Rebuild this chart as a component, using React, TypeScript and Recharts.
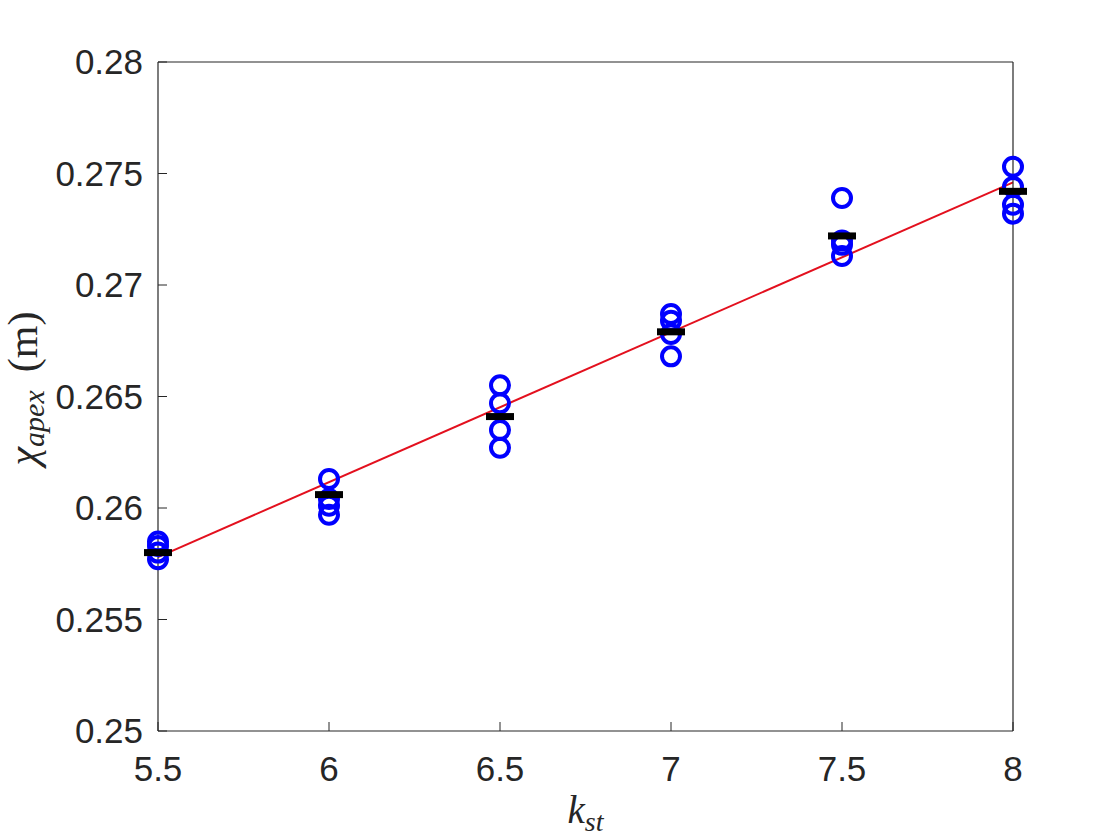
import React from "react";
import { ComposedChart, XAxis, YAxis, Scatter, Line } from "recharts";

// k_st values where the simulation was run
const kValues = [5.5, 6, 6.5, 7, 7.5, 8];

// apex position (m) for each repeated run, one entry per k value
const run1 = [0.2585, 0.2613, 0.2655, 0.2687, 0.2739, 0.2753];
const run2 = [0.2583, 0.2604, 0.2647, 0.2684, 0.2720, 0.2744];
const run3 = [0.2580, 0.2601, 0.2635, 0.2678, 0.2718, 0.2736];
const run4 = [0.2577, 0.2597, 0.2627, 0.2668, 0.2713, 0.2732];

// mean per k value (black dashes)
const meanChi = [0.2580, 0.2606, 0.2641, 0.2679, 0.2722, 0.2742];

// linear fit end points
const fitK = [5.5, 8];
const fitChi = [0.2578, 0.2746];

const xTicks = [5.5, 6, 6.5, 7, 7.5, 8];
const yTicks = [0.25, 0.255, 0.26, 0.265, 0.27, 0.275, 0.28];

const runs = [run1, run2, run3, run4];
const circleData = kValues.flatMap((k, i) => runs.map((r) => ({ k, chi: r[i] })));
const meanData = kValues.map((k, i) => ({ k, chi: meanChi[i] }));
const fitData = fitK.map((k, i) => ({ k, chi: fitChi[i] }));

const AXIS = "#262626";
const tickFont = { fontSize: 35, fill: AXIS, fontFamily: "'Liberation Sans', Arial, sans-serif" };

function RingShape(props: any) {
  const { cx, cy } = props;
  return <circle cx={cx} cy={cy} r={9} fill="none" stroke="#0000ff" strokeWidth={4} />;
}

function DashShape(props: any) {
  const { cx, cy } = props;
  return <rect x={cx - 14} y={cy - 3.5} width={28} height={7} fill="#000" />;
}

function YLabel(props: any) {
  const vb = props.viewBox || {};
  const cy = (vb.y ?? 0) + (vb.height ?? 0) / 2 - 8;
  return (
    <text
      transform="rotate(-90)"
      x={-cy}
      y={37}
      textAnchor="middle"
      fill={AXIS}
      fontFamily="'Liberation Serif', 'DejaVu Serif', serif"
      fontSize={42}
    >
      <tspan fontStyle="italic">χ</tspan>
      <tspan fontStyle="italic" fontSize={30} dy={7}>apex</tspan>
      <tspan dy={-7} dx={18}>(m)</tspan>
    </text>
  );
}

function XLabel(props: any) {
  const vb = props.viewBox || {};
  const cx = (vb.x ?? 0) + (vb.width ?? 0) / 2;
  return (
    <text
      x={cx}
      y={823}
      textAnchor="middle"
      fill={AXIS}
      fontFamily="'Liberation Serif', 'DejaVu Serif', serif"
      fontStyle="italic"
      fontSize={39}
    >
      <tspan>k</tspan>
      <tspan fontSize={28} dy={8}>st</tspan>
    </text>
  );
}

export default function App() {
  return (
    <div style={{ position: "absolute", left: 0, top: 0, background: "#fff" }}>
      <ComposedChart width={1120} height={840} margin={{ top: 0, right: 0, bottom: 0, left: 0 }}>
        <XAxis
          dataKey="k"
          type="number"
          domain={[5.5, 8]}
          ticks={xTicks}
          height={109}
          tick={tickFont}
          tickSize={-9}
          tickMargin={34}
          stroke={AXIS}
          axisLine={{ stroke: AXIS, strokeWidth: 1.2 }}
          tickLine={{ stroke: AXIS }}
          label={<XLabel />}
        />
        <XAxis
          xAxisId="top"
          orientation="top"
          type="number"
          domain={[5.5, 8]}
          ticks={xTicks}
          height={62}
          tickSize={-9}
          tickFormatter={() => ""}
          axisLine={{ stroke: AXIS, strokeWidth: 1.2 }}
          tickLine={{ stroke: AXIS }}
        />
        <YAxis
          type="number"
          domain={[0.25, 0.28]}
          ticks={yTicks}
          width={158}
          tick={tickFont}
          tickSize={-9}
          tickMargin={24}
          tickFormatter={(v: number) => String(v)}
          axisLine={{ stroke: AXIS, strokeWidth: 1.2 }}
          tickLine={{ stroke: AXIS }}
          label={<YLabel />}
        />
        <YAxis
          yAxisId="right"
          orientation="right"
          type="number"
          domain={[0.25, 0.28]}
          ticks={yTicks}
          width={107}
          tickSize={-9}
          tickFormatter={() => ""}
          axisLine={{ stroke: AXIS, strokeWidth: 1.2 }}
          tickLine={{ stroke: AXIS }}
        />
        <Scatter data={circleData} dataKey="chi" shape={<RingShape />} isAnimationActive={false} />
        <Line
          data={fitData}
          dataKey="chi"
          type="linear"
          stroke="#e3101e"
          strokeWidth={2}
          dot={false}
          activeDot={false}
          isAnimationActive={false}
        />
        <Scatter data={meanData} dataKey="chi" shape={<DashShape />} isAnimationActive={false} />
      </ComposedChart>
    </div>
  );
}
